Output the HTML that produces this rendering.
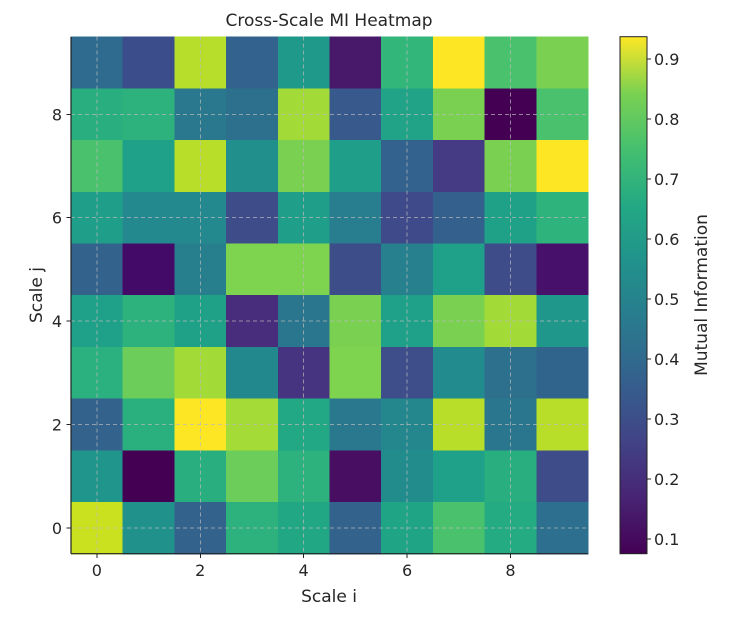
<!DOCTYPE html>
<html><head><meta charset="utf-8"><style>body{margin:0;background:#fff}svg{display:block;font-family:"DejaVu Sans","Liberation Sans",sans-serif;fill:#262626}</style></head>
<body>
<svg width="739" height="618" xmlns="http://www.w3.org/2000/svg">
<defs>
<linearGradient id="v" x1="0" y1="1" x2="0" y2="0">
<stop offset="0" stop-color="#440154"/><stop offset="0.11" stop-color="#482475"/><stop offset="0.22" stop-color="#414487"/><stop offset="0.33" stop-color="#355f8d"/><stop offset="0.44" stop-color="#2a788e"/><stop offset="0.56" stop-color="#21918c"/><stop offset="0.67" stop-color="#22a884"/><stop offset="0.78" stop-color="#44bf70"/><stop offset="0.89" stop-color="#7ad151"/><stop offset="1" stop-color="#fde725"/>
</linearGradient>
</defs>
<text x="329" y="26" font-size="17" text-anchor="middle">Cross-Scale MI Heatmap</text>
<g id="cells" shape-rendering="crispEdges"></g>
<line x1="71" y1="36.7" x2="71" y2="553.7" stroke="#222" stroke-width="1.2"/>
<line x1="71" y1="553.7" x2="588" y2="553.7" stroke="#222" stroke-width="1.2"/>
<text x="329" y="602" font-size="17" text-anchor="middle">Scale i</text>
<text x="0" y="0" font-size="17" text-anchor="middle" transform="translate(42,295) rotate(-90)">Scale j</text>
<rect x="620" y="36.7" width="27" height="517" fill="url(#v)" stroke="#222" stroke-width="1"/>
<g id="cb"></g>
<text x="0" y="0" font-size="17" text-anchor="middle" transform="translate(707,295) rotate(-90)">Mutual Information</text>
</svg>
<script>
var NS="http://www.w3.org/2000/svg";
function el(p,tag,attrs,txt){var e=document.createElementNS(NS,tag);for(var k in attrs)e.setAttribute(k,attrs[k]);if(txt!==undefined)e.textContent=txt;p.appendChild(e);return e;}
var rows=[
["#2e6b8e","#3b4d8a","#b6de2b","#32628d","#1f9a8a","#48186a","#33b67a","#fde725","#4ac16d","#7ad151"],
["#29af7f","#2db27d","#29788e","#2d708e","#a2da37","#38598c","#20a386","#7ad151","#440154","#4ac16d"],
["#4ac16d","#1fa088","#b8de29","#21908d","#7ad151","#1f9e89","#32628d","#443b84","#7ad151","#fde725"],
["#1f9e89","#23898e","#23898e","#3e4c8a","#1f9e89","#287d8e","#3e4a89","#33608d","#1fa188","#2eb37c"],
["#33628d","#440a68","#277f8e","#7ed34f","#7ed34f","#3d4d8a","#27808e","#1fa088","#3e4c8a","#46106b"],
["#1fa088","#2db27d","#1fa187","#472d7b","#2a768e","#7ad151","#1fa088","#7ad151","#a2da37","#1f978b"],
["#2bb07f","#6ccd5a","#a2da37","#23888e","#463480","#7ed34f","#3d4e8a","#228b8d","#2d708e","#31648d"],
["#33628d","#2ab07f","#fde725","#a5db36","#22a884","#2a788e","#24878e","#b8de29","#2a768e","#b8de29"],
["#1f958b","#440154","#29af7f","#6ccd5a","#2db27d","#470e61","#228c8d","#1fa088","#29af7f","#3e4c8a"],
["#cae11f","#21918c","#33628d","#2db27d","#22a785","#33628d","#20a486","#4ac16d","#25ab82","#2d6f8e"]];
var g=document.getElementById("cells"),w=51.7,x0=71,y0=36.7;
for(var r=0;r<10;r++)for(var c=0;c<10;c++)el(g,"rect",{x:x0+c*w,y:y0+r*w,width:w+0.6,height:w+0.6,fill:rows[r][c]});
for(var k=0;k<5;k++){var p=x0+(2*k+0.5)*w,q=y0+(9.5-2*k)*w;
el(g,"line",{x1:p,y1:y0,x2:p,y2:y0+10*w,stroke:"#bbb","stroke-opacity":"0.7","stroke-dasharray":"4,3"});
el(g,"line",{x1:x0,y1:q,x2:x0+10*w,y2:q,stroke:"#bbb","stroke-opacity":"0.7","stroke-dasharray":"4,3"});
el(g,"line",{x1:p,y1:553.7,x2:p,y2:558,stroke:"#222"});
el(g,"text",{x:p,y:576,"font-size":16,"text-anchor":"middle"},String(2*k));
el(g,"line",{x1:66.5,y1:q,x2:71,y2:q,stroke:"#222"});
el(g,"text",{x:62,y:q+6,"font-size":16,"text-anchor":"end"},String(2*k));}
var cb=document.getElementById("cb");
for(var t=1;t<=9;t++){var yy=539-(t-1)*60;el(cb,"line",{x1:647,y1:yy,x2:651,y2:yy,stroke:"#222"});el(cb,"text",{x:654,y:yy+6,"font-size":16},"0."+t);}
</script>
</body></html>
